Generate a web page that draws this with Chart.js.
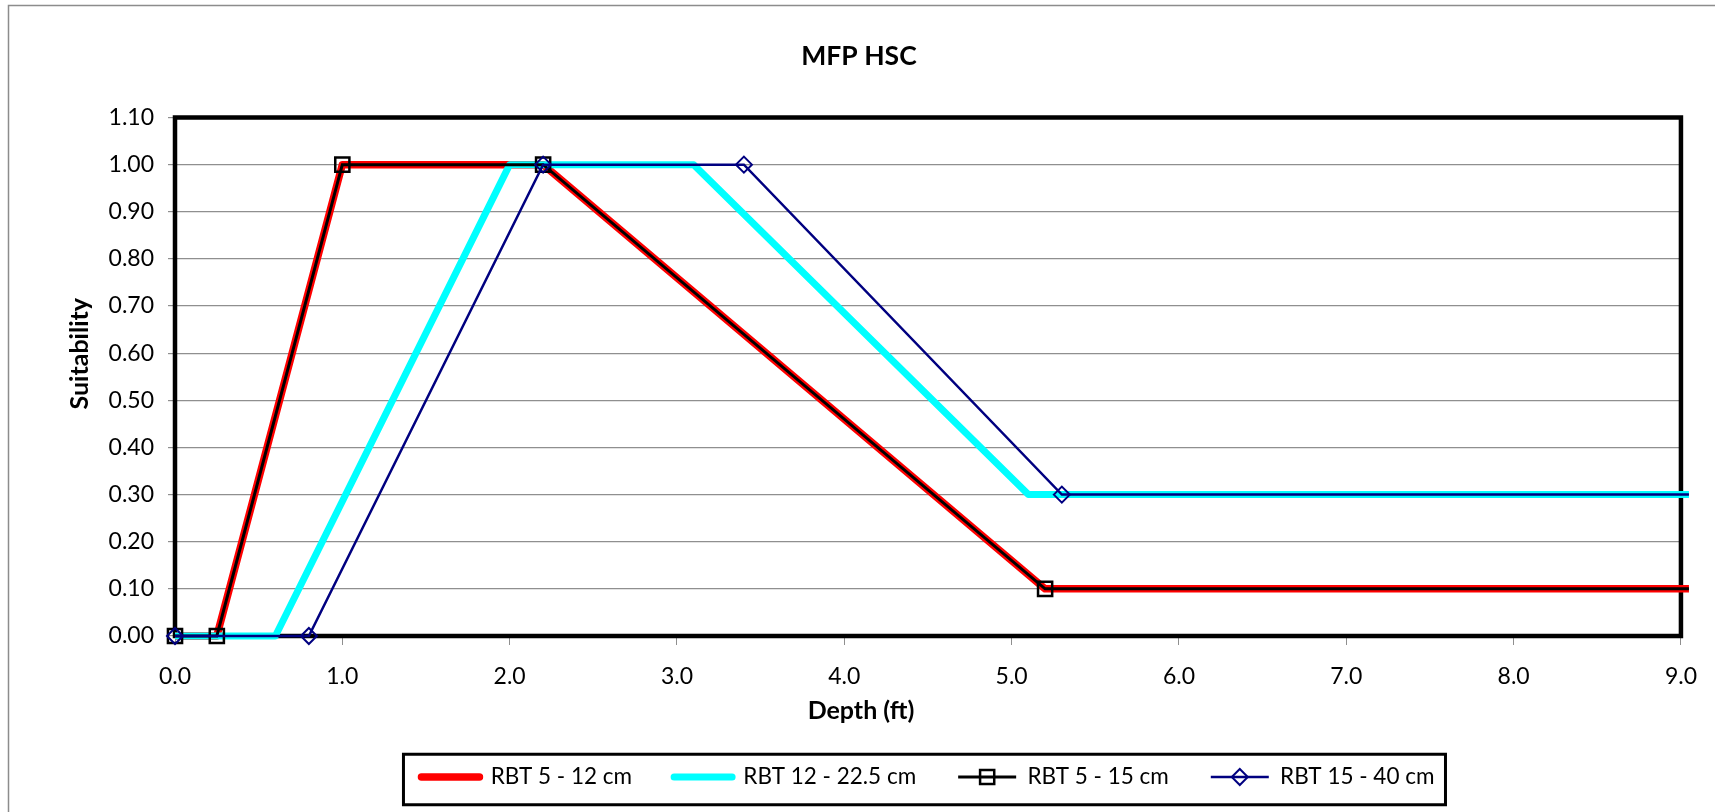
<!DOCTYPE html>
<html>
<head>
<meta charset="utf-8">
<title>MFP HSC</title>
<script src="https://cdn.jsdelivr.net/npm/chart.js@4.4.1/dist/chart.umd.min.js"></script>
<style>
  html, body { margin: 0; padding: 0; background: #fff; }
  canvas { display: block; }
</style>
</head>
<body>
<canvas id="chart" width="1715" height="812"></canvas>
<script>
// depth (ft) and suitability for each curve
// (last point sits past the 9 ft axis end, the line just runs off the plot)
const rbt5to12Depth = [0, 0.25, 1.0, 2.2, 5.2, 10];
const rbt5to12Suit = [0, 0, 1.0, 1.0, 0.1, 0.1];

const rbt12to22Depth = [0, 0.6, 2.0, 3.1, 5.1, 10];
const rbt12to22Suit = [0, 0, 1.0, 1.0, 0.3, 0.3];

const rbt5to15Depth = [0, 0.25, 1.0, 2.2, 5.2, 10];
const rbt5to15Suit = [0, 0, 1.0, 1.0, 0.1, 0.1];

const rbt15to40Depth = [0, 0.8, 2.2, 3.4, 5.3, 10];
const rbt15to40Suit = [0, 0, 1.0, 1.0, 0.3, 0.3];

const seriesLabels = ['RBT 5 - 12 cm', 'RBT 12 - 22.5 cm', 'RBT 5 - 15 cm', 'RBT 15 - 40 cm'];

const xTicks = [0, 1, 2, 3, 4, 5, 6, 7, 8, 9];
const yTicks = [0, 0.1, 0.2, 0.3, 0.4, 0.5, 0.6, 0.7, 0.8, 0.9, 1.0, 1.1];

const chartTitle = 'MFP HSC';
const xTitle = 'Depth (ft)';
const yTitle = 'Suitability';

const FONT = 'Lato, "Open Sans", sans-serif';
const GRID = '#8f8f8f';

function toXY(xs, ys) {
  return xs.map((x, i) => ({ x: x, y: ys[i] }));
}

// let lines run a few px past the frame on the right, keep markers at 0 whole
const lineClip = { left: 20, top: 20, right: 8, bottom: 20 };

const datasets = [
  {
    label: seriesLabels[0],
    data: toXY(rbt5to12Depth, rbt5to12Suit),
    borderColor: '#ff0000',
    backgroundColor: '#ff0000',
    borderWidth: 7.5,
    borderJoinStyle: 'round',
    pointRadius: 0,
    order: 4,
    clip: lineClip
  },
  {
    label: seriesLabels[1],
    data: toXY(rbt12to22Depth, rbt12to22Suit),
    borderColor: '#00ffff',
    backgroundColor: '#00ffff',
    borderWidth: 7,
    borderJoinStyle: 'round',
    pointRadius: 0,
    order: 3,
    clip: lineClip
  },
  {
    label: seriesLabels[2],
    data: toXY(rbt5to15Depth, rbt5to15Suit),
    borderColor: '#000000',
    backgroundColor: 'rgba(0,0,0,0)',
    borderWidth: 3,
    pointStyle: 'rect',
    pointRadius: 10,
    pointBorderWidth: 2.5,
    pointBorderColor: '#000000',
    pointBackgroundColor: 'rgba(0,0,0,0)',
    order: 2,
    clip: lineClip
  },
  {
    label: seriesLabels[3],
    data: toXY(rbt15to40Depth, rbt15to40Suit),
    borderColor: '#000080',
    backgroundColor: 'rgba(0,0,0,0)',
    borderWidth: 2.5,
    pointStyle: 'rectRot',
    pointRadius: 8,
    pointBorderWidth: 2,
    pointBorderColor: '#000080',
    pointBackgroundColor: 'rgba(0,0,0,0)',
    order: 1,
    clip: lineClip
  }
];

// white page with the thin grey chart border (runs off the right/bottom)
const pageFrame = {
  id: 'pageFrame',
  beforeDraw(chart) {
    const ctx = chart.ctx;
    ctx.save();
    ctx.fillStyle = '#ffffff';
    ctx.fillRect(0, 0, chart.width, chart.height);
    ctx.strokeStyle = '#8c8c8c';
    ctx.lineWidth = 1.5;
    ctx.strokeRect(8.5, 5.5, chart.width + 50, chart.height + 50);
    ctx.restore();
  }
};

// heavy black frame round the plot area, under the series
const plotFrame = {
  id: 'plotFrame',
  beforeDatasetsDraw(chart) {
    const a = chart.chartArea;
    const ctx = chart.ctx;
    ctx.save();
    ctx.strokeStyle = '#000000';
    ctx.lineWidth = 4.5;
    ctx.strokeRect(a.left, a.top, a.right - a.left, a.bottom - a.top);
    ctx.restore();
  }
};

// Excel centres the chart title and the x title on the page, not the plot,
// and puts the y title a little above the plot middle
const titles = {
  id: 'titles',
  afterDraw(chart) {
    const a = chart.chartArea;
    const ctx = chart.ctx;
    ctx.save();
    ctx.fillStyle = '#000000';
    ctx.textAlign = 'center';
    ctx.textBaseline = 'middle';

    ctx.font = 'bold 26.5px ' + FONT;
    ctx.fillText(chartTitle, 859, 56);

    ctx.font = 'bold 25px ' + FONT;
    ctx.fillText(xTitle, 861, 711);

    ctx.translate(80, (a.top + a.bottom) / 2 - 23);
    ctx.rotate(-Math.PI / 2);
    ctx.fillText(yTitle, 0, 0);
    ctx.restore();
  }
};

// box round the legend, plus markers on the legend line samples
const legendExtras = {
  id: 'legendExtras',
  afterDraw(chart) {
    const lg = chart.legend;
    if (!lg || !lg.legendHitBoxes || !lg.legendHitBoxes.length) return;
    const ctx = chart.ctx;
    const boxes = lg.legendHitBoxes;
    const sw = lg.options.labels.pointStyleWidth;
    const fs = lg.options.labels.font.size;
    const first = boxes[0];
    const last = boxes[boxes.length - 1];

    ctx.save();
    ctx.strokeStyle = '#000000';
    ctx.lineWidth = 3;
    const left = first.left - 18;
    const right = last.left + last.width + 11;
    const top = first.top - 11.5;
    const bottom = first.top + 39;
    ctx.strokeRect(left, top, right - left, bottom - top);

    lg.legendItems.forEach((item, i) => {
      const ds = chart.data.datasets[item.datasetIndex];
      if (!ds.pointRadius) return;
      const cx = boxes[i].left + sw / 2;
      const cy = boxes[i].top + fs / 2;
      ctx.strokeStyle = ds.pointBorderColor;
      ctx.lineWidth = ds.pointBorderWidth;
      ctx.beginPath();
      if (ds.pointStyle === 'rect') {
        const h = ds.pointRadius * Math.SQRT1_2;
        ctx.rect(cx - h, cy - h, 2 * h, 2 * h);
      } else {
        const r = ds.pointRadius;
        ctx.moveTo(cx - r, cy);
        ctx.lineTo(cx, cy - r);
        ctx.lineTo(cx + r, cy);
        ctx.lineTo(cx, cy + r);
        ctx.closePath();
      }
      ctx.stroke();
    });
    ctx.restore();
  }
};

new Chart(document.getElementById('chart'), {
  type: 'line',
  data: { datasets: datasets },
  options: {
    responsive: false,
    animation: false,
    events: [],
    layout: { padding: { left: 0, right: 33, top: 117.5, bottom: 13.75 } },
    scales: {
      x: {
        type: 'linear',
        min: 0,
        max: 9,
        afterBuildTicks(scale) {
          scale.ticks = xTicks.map(v => ({ value: v }));
        },
        afterFit(scale) {
          scale.height = 87.75;
        },
        ticks: {
          color: '#000000',
          padding: 18,
          maxRotation: 0,
          font: { family: FONT, size: 23 },
          callback: v => Number(v).toFixed(1)
        },
        grid: {
          drawOnChartArea: false,
          drawTicks: true,
          tickLength: 9,
          tickColor: GRID,
          color: GRID
        },
        border: { display: false },
        title: { display: false }
      },
      y: {
        type: 'linear',
        min: 0,
        max: 1.1,
        afterBuildTicks(scale) {
          scale.ticks = yTicks.map(v => ({ value: v }));
        },
        afterFit(scale) {
          scale.width = 175;
        },
        ticks: {
          color: '#000000',
          padding: 14,
          font: { family: FONT, size: 23 },
          callback: v => Number(v).toFixed(2)
        },
        grid: {
          color: GRID,
          lineWidth: 1.2,
          tickLength: 7,
          tickColor: GRID
        },
        border: { display: false },
        title: { display: false }
      }
    },
    plugins: {
      title: { display: false },
      legend: {
        display: true,
        position: 'bottom',
        fullSize: false,
        labels: {
          usePointStyle: true,
          pointStyleWidth: 58,
          padding: 42,
          color: '#000000',
          font: { family: FONT, size: 22.5 },
          sort: (a, b) => a.datasetIndex - b.datasetIndex,
          generateLabels(chart) {
            return chart.data.datasets.map((ds, i) => ({
              text: ds.label,
              fillStyle: ds.borderColor,
              strokeStyle: ds.borderColor,
              lineWidth: ds.borderWidth,
              lineCap: ds.pointRadius ? 'butt' : 'round',
              pointStyle: 'line',
              hidden: false,
              datasetIndex: i
            }));
          }
        }
      },
      tooltip: { enabled: false }
    }
  },
  plugins: [pageFrame, plotFrame, titles, legendExtras]
});
</script>
</body>
</html>
